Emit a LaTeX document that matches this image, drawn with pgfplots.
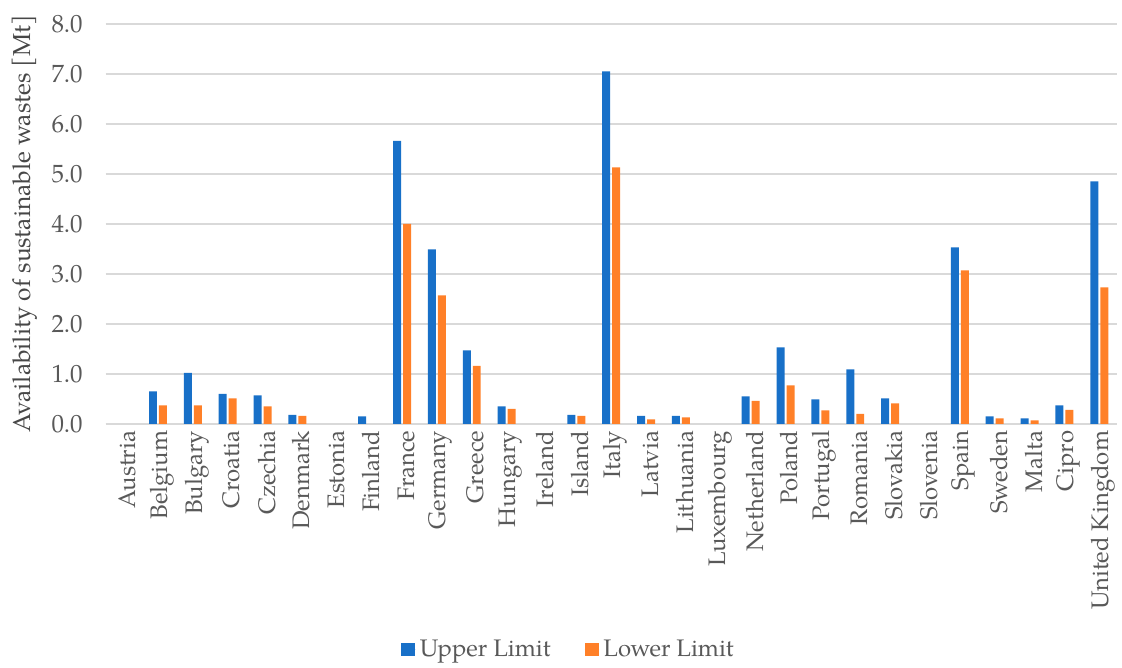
\documentclass[border=0pt]{standalone}
\usepackage{pgfplots}
\pgfplotsset{compat=1.18}
\usepackage{fontspec}
\setmainfont{TeX Gyre Pagella}
\definecolor{upc}{RGB}{24,112,200}
\definecolor{loc}{RGB}{255,128,40}
\definecolor{gridc}{RGB}{217,217,217}
\definecolor{txtc}{RGB}{89,89,89}
\begin{document}
\begin{tikzpicture}
\begin{axis}[
  scale only axis,
  width=507pt, height=200.5pt,
  ymin=0, ymax=8,
  xmin=-0.5, xmax=28.5,
  ybar=1pt, bar width=4pt,
  ytick={0,1,...,8},
  yticklabel={\pgfmathprintnumber[fixed,fixed zerofill,precision=1]{\tick}},
  /pgf/number format/assume math mode=true,
  xtick={0,...,28},
  xticklabels={Austria,Belgium,Bulgary,Croatia,Czechia,Denmark,Estonia,Finland,France,Germany,Greece,Hungary,Ireland,Island,Italy,Latvia,Lithuania,Luxembourg,Netherland,Poland,Portugal,Romania,Slovakia,Slovenia,Spain,Sweden,Malta,Cipro,United Kingdom},
  xticklabel style={rotate=90, anchor=east, font=\fontsize{12}{14}\selectfont, text=txtc, xshift=0pt, yshift=-2pt},
  yticklabel style={font=\fontsize{12.5}{14}\selectfont, text=txtc, anchor=east, xshift=-8pt},
  major tick length=0pt,
  ymajorgrids, grid style={gridc, line width=0.8pt},
  axis x line*=bottom,
  axis y line*=left,
  x axis line style={draw=gridc, line width=0.8pt, -},
  y axis line style={draw=none},
  ylabel={Availability of sustainable wastes [Mt]},
  ylabel style={font=\fontsize{12.3}{14}\selectfont, text=txtc!80!black, at={(axis description cs:-0.0805,0.5)}, anchor=center},
  legend style={at={(0.4586,-0.565)}, anchor=center, draw=none, fill=none,
    legend columns=2, font=\fontsize{12}{14}\selectfont, text=txtc,
    /tikz/every even column/.append style={column sep=15pt}},
  legend image code/.code={\fill[#1] (0pt,-3.3pt) rectangle (7pt,3.3pt); \path (0pt,0pt) -- (7.5pt,0pt);},
]
\addplot[fill=upc, draw=none] coordinates {
(1,0.65) (2,1.02) (3,0.60) (4,0.57) (5,0.18) (7,0.15) (8,5.66) (9,3.49)
(10,1.47) (11,0.35) (13,0.18) (14,7.05) (15,0.16) (16,0.16) (18,0.55) (19,1.53)
(20,0.49) (21,1.09) (22,0.51) (24,3.53) (25,0.15) (26,0.11) (27,0.37) (28,4.85)};
\addplot[fill=loc, draw=none] coordinates {
(1,0.37) (2,0.37) (3,0.51) (4,0.35) (5,0.16) (8,4.00) (9,2.57)
(10,1.16) (11,0.30) (13,0.16) (14,5.13) (15,0.09) (16,0.13) (18,0.46) (19,0.77)
(20,0.27) (21,0.20) (22,0.41) (24,3.07) (25,0.11) (26,0.07) (27,0.28) (28,2.73)};
\legend{Upper Limit, Lower Limit}
\coordinate (o) at (rel axis cs:0,0);
\end{axis}
\path (o) ++(-53pt,-118.5pt) rectangle ++(561pt,331pt);
\end{tikzpicture}
\end{document}
